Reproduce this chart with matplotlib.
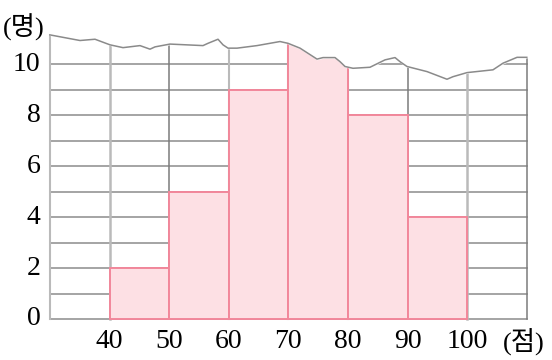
"""
도수분포 히스토그램 (윗부분이 찢어진 그림)
"""

import matplotlib.pyplot as plt
import numpy as np

# 계급과 도수 (70~80 계급은 찢어져서 보이지 않음)
bin_edges = [40, 50, 60, 70, 80, 90, 100]
counts = [2, 5, 9, 12, 8, 4]
y_ticks = [0, 2, 4, 6, 8, 10]
x_ticks = [40, 50, 60, 70, 80, 90, 100]

# 찢어진 윗선
torn_x = [30, 35.03, 37.55, 40.07, 42.25, 45.10, 46.78, 47.62, 50.13, 55.67,
          56.51, 58.19, 59.03, 59.87, 61.38, 64.73, 68.59, 69.93, 71.95, 74.80,
          75.81, 77.82, 78.66, 79.50, 80.84, 83.69, 86.21, 87.89, 88.72, 89.90,
          93.26, 96.61, 97.62, 99.97, 104.33, 106.01, 108.36, 110]
torn_y = [11.15, 10.93, 10.98, 10.76, 10.65, 10.73, 10.59, 10.68, 10.79, 10.73,
          10.82, 10.98, 10.76, 10.63, 10.63, 10.73, 10.89, 10.82, 10.63, 10.20,
          10.26, 10.26, 10.10, 9.91, 9.84, 9.88, 10.17, 10.26, 10.10, 9.91,
          9.71, 9.41, 9.51, 9.67, 9.78, 10.04, 10.27, 10.27]

fig = plt.figure(figsize=(5.52, 3.6), dpi=100)
ax = fig.add_axes([0, 0, 1, 1])
ax.set_xlim(21.61, 114.23)
ax.set_ylim(-1.61, 12.52)
ax.axis('off')

light = '#bababa'
dark = '#7c7c7c'

# 가로 격자
for v in range(0, 11):
    ax.plot([30, 110], [v, v], color='#959595', lw=1.2, zorder=1)

# 세로 격자 (양 끝은 찢어진 선까지만)
v_colors = [light, light, dark, light, light, light, dark, light, dark]
v_widths = [1.5, 1.8, 1.1, 1.5, 1.5, 1.5, 1.1, 1.8, 1.1]
v_pos = list(range(30, 111, 10))
for xv, c, w in zip(v_pos, v_colors, v_widths):
    top = 12.5
    if xv == v_pos[0]:
        top = torn_y[0]
    elif xv == v_pos[-1]:
        top = torn_y[-1]
    ax.plot([xv, xv], [0, top], color=c, lw=w, zorder=1)

# 히스토그램
widths = np.diff(bin_edges)
ax.bar(bin_edges[:-1], counts, width=widths, align='edge',
       color='#fde0e4', edgecolor='#f2879a', linewidth=1.4, zorder=2)

# 찢어진 부분 가리기
ax.fill_between(torn_x, torn_y, 13, color='white', zorder=3)
ax.plot(torn_x, torn_y, color='#8a8a8a', lw=1.1, zorder=4,
        solid_joinstyle='round')

fam = ['Liberation Serif', 'Noto Sans CJK KR']
for t in y_ticks:
    ax.text(28.4, t, str(t), ha='right', va='center', fontsize=20, family=fam)
for t in x_ticks:
    ax.text(t, -0.9, str(t), ha='center', va='center', fontsize=20, family=fam)

ax.text(25.6, 11.45, '(명)', ha='center', va='center', fontsize=19, family=fam)
ax.text(109.5, -0.9, '(점)', ha='center', va='center', fontsize=19, family=fam)

fig.savefig('out.png', dpi=100)
